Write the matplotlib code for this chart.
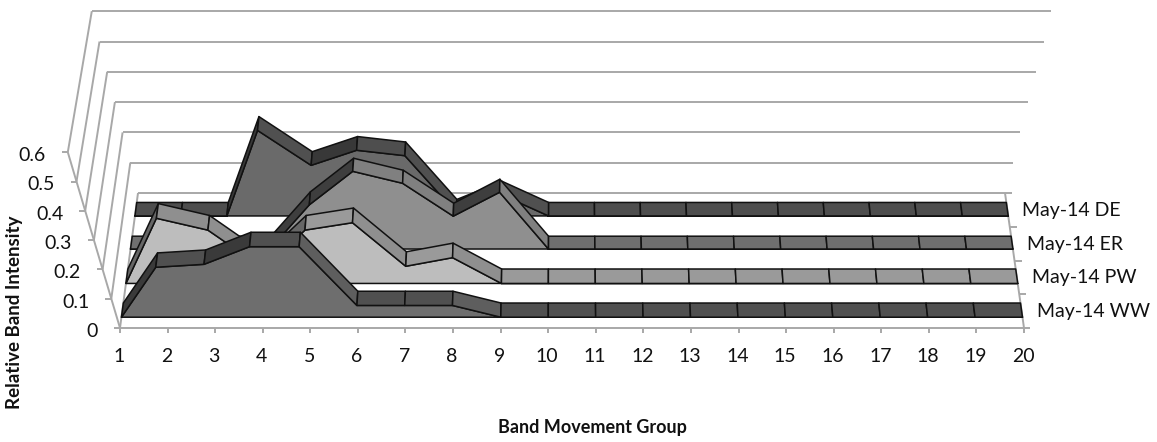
import matplotlib
matplotlib.use("Agg")
import matplotlib.pyplot as plt

plt.rcParams['font.family'] = ['Lato', 'DejaVu Sans']

# data
groups = list(range(1, 21))
y_ticks = [0, 0.1, 0.2, 0.3, 0.4, 0.5, 0.6]
series_names = ["May-14 WW", "May-14 PW", "May-14 ER", "May-14 DE"]
ww = [0, 0.17, 0.18, 0.24, 0.24, 0.04, 0.04, 0.04, 0] + [0] * 11
pw = [0, 0.22, 0.18, 0.05, 0.18, 0.205, 0.058, 0.087, 0] + [0] * 11
er = [0, 0, 0, 0, 0.148, 0.26, 0.22, 0.11, 0.19, 0] + [0] * 10
de = [0, 0, 0, 0.284, 0.168, 0.218, 0.2, 0.01, 0.07, 0] + [0] * 10

# depth of each band on the floor, front and back
depths = [(0.08, 0.185), (0.33, 0.437), (0.585, 0.68), (0.83, 0.93)]
# face, flat top, rising top, falling top
shades = [("#6e6e6e", "#505050", "#3a3a3a", "#5e5e5e"),
          ("#bdbdbd", "#9a9a9a", "#666666", "#8f8f8f"),
          ("#8f8f8f", "#6f6f6f", "#3e3e3e", "#808080"),
          ("#6a6a6a", "#4e4e4e", "#383838", "#505050")]
grid_col = "#a8a8a8"


def lerp(a, b, t):
    return a + (b - a) * t


def project(group, value, depth):
    # perspective of the 3D box, in pixels of the picture
    t = (group - 1) / 19
    left = lerp(120 - 87 * value, 138 - 77 * value, depth)
    right = lerp(1024 + 87 * value, 1005 + 77 * value, depth)
    y = lerp(328 - 293 * value, 193 - 303 * value, depth)
    return lerp(left, right, t), y


def line(p0, p1, **kw):
    ax.plot([p0[0], p1[0]], [p0[1], p1[1]], solid_capstyle="butt", **kw)


def poly(points, color, zorder):
    xs = [p[0] for p in points]
    ys = [p[1] for p in points]
    ax.fill(xs, ys, facecolor=color, edgecolor="#111111", linewidth=1.1,
            joinstyle="round", zorder=zorder)


fig = plt.figure(figsize=(11.57, 4.42), dpi=100)
ax = fig.add_axes([0, 0, 1, 1])
ax.set_xlim(0, 1157)
ax.set_ylim(442, 0)
ax.axis("off")

# walls and floor
grid = dict(color=grid_col, lw=1.4, zorder=1)
for v in y_ticks:
    back_l = project(1, v, 1)
    back_r = project(20, v, 1)
    front_l = project(1, v, 0)
    line(back_l, (back_r[0] + (7 if v == 0 else 0), back_r[1]), **grid)
    line(front_l, back_l, **grid)
    line((front_l[0] - 6, front_l[1]), front_l, **grid)
    ax.text(front_l[0] - 22, front_l[1] + 3.5, f"{v:g}", ha="right", va="center",
            fontsize=14, color="#111111")
line(project(1, 0, 0), project(1, 0.6, 0), **grid)
line(project(1, 0, 0), (project(20, 0, 0)[0] + 6, 328), **grid)
line(project(20, 0, 0), project(20, 0, 1), **grid)

for g in groups:
    px, py = project(g, 0, 0)
    line((px, py), (px, py + 5), **grid)
    ax.text(px - 1, py + 28, str(g), ha="center", va="center", fontsize=14,
            color="#111111")

for i in range(1, 4):
    px, py = project(20, 0, i / 4)
    line((px, py), (px + 7, py), **grid)

for i, name in enumerate(series_names):
    px, py = project(20, 0, (i + 0.5) / 4)
    ax.text(px + 15, py + 0.5, name, ha="left", va="center", fontsize=14,
            color="#111111")

# bands from back to front
bands = [ww, pw, er, de]
for i in [3, 2, 1, 0]:
    vals = bands[i]
    d0, d1 = depths[i]
    face, flat, rise, fall = shades[i]
    z = 10 + (3 - i) * 2
    top = [project(g, v, d0) for g, v in zip(groups, vals)]
    poly(top + [project(20, 0, d0), project(1, 0, d0)], face, z)
    for k in range(19):
        a, b = vals[k], vals[k + 1]
        color = flat if abs(a - b) < 0.03 else (rise if b > a else fall)
        poly([project(groups[k], a, d0), project(groups[k + 1], b, d0),
              project(groups[k + 1], b, d1), project(groups[k], a, d1)], color, z + 1)

ax.text(592, 428, "Band Movement Group", ha="center", va="center",
        fontsize=13, fontweight="bold", color="#111111")
ax.text(15, 312, "Relative Band Intensity", ha="center", va="center",
        rotation=90, fontsize=13.5, fontweight="bold", color="#111111")

fig.savefig("out.png", dpi=100)
